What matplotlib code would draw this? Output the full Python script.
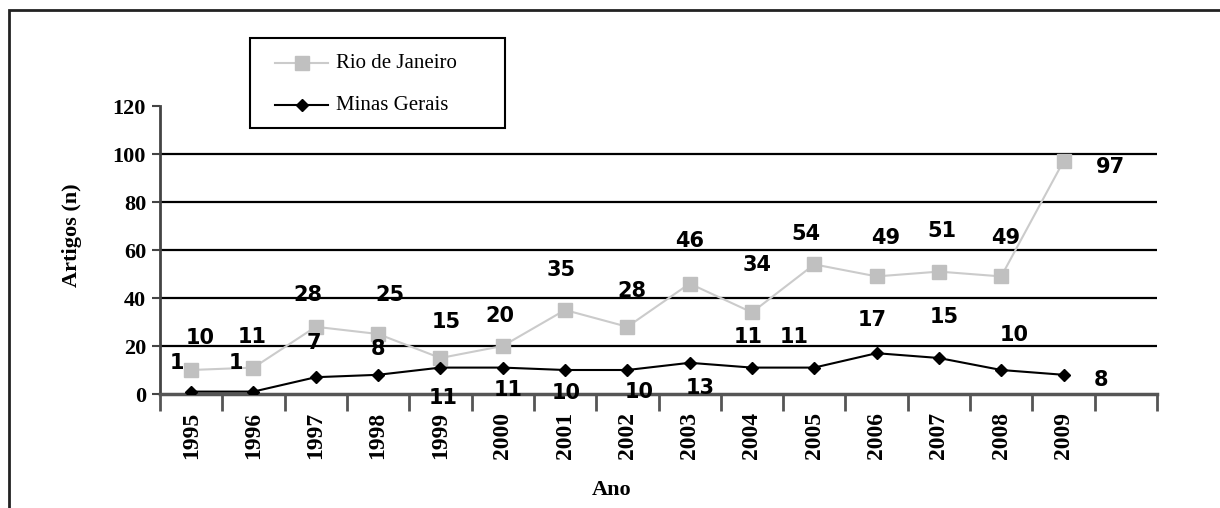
import matplotlib.pyplot as plt
from matplotlib.patches import Rectangle
from matplotlib.lines import Line2D

# data
anos = ['1995', '1996', '1997', '1998', '1999', '2000', '2001', '2002',
        '2003', '2004', '2005', '2006', '2007', '2008', '2009']
rio = [10, 11, 28, 25, 15, 20, 35, 28, 46, 34, 54, 49, 51, 49, 97]
minas = [1, 1, 7, 8, 11, 11, 10, 10, 13, 11, 11, 17, 15, 10, 8]
series_names = ['Rio de Janeiro', 'Minas Gerais']

# where each value label sits relative to its point (pixels)
rio_off = [(9, 32), (-1, 31), (-8, 32), (12, 39), (6, 36), (-3, 30), (-4, 40),
           (5, 36), (0, 43), (5, 47), (-8, 30), (9, 38), (3, 41), (4, 38), (47, -6)]
minas_off = [(-14, 29), (-18, 29), (-2, 34), (0, 26), (3, -30), (5, -22), (1, -23),
             (12, -22), (11, -25), (-4, 31), (-20, 31), (-4, 33), (5, 41), (13, 35), (37, -5)]

W, H = 1220, 508
fig = plt.figure(figsize=(W / 100, H / 100), dpi=100)
ax = fig.add_axes([160 / W, 1 - 394 / H, (1157 - 160) / W, (394 - 106) / H])

rio_style = dict(color='#cbcbcb', lw=1.5, marker='s', ms=10, mfc='#c0c0c0', mec='#c0c0c0')
minas_style = dict(color='black', lw=1.5, marker='D', ms=6)

x = list(range(len(anos)))
ax.plot(x, rio, zorder=3, **rio_style)
ax.plot(x, minas, zorder=4, **minas_style)

lab_font = dict(family='DejaVu Sans', fontweight='bold', fontsize=15)
for i, v in enumerate(rio):
    ax.annotate(str(v), (i, v), xytext=rio_off[i], textcoords='offset pixels',
                ha='center', va='center', zorder=5, **lab_font)
for i, v in enumerate(minas):
    ax.annotate(str(v), (i, v), xytext=minas_off[i], textcoords='offset pixels',
                ha='center', va='center', zorder=5, **lab_font)

ax.set_xlim(-0.5, len(anos) + 0.5)
ax.set_ylim(0, 120)

# gridlines (none at the top)
ax.set_yticks(range(0, 121, 20))
for g in range(20, 120, 20):
    ax.axhline(g, color='black', lw=1.6, zorder=1)

for s in ['top', 'right']:
    ax.spines[s].set_visible(False)
ax.spines['left'].set_color('#444444')
ax.spines['left'].set_linewidth(2)
ax.spines['bottom'].set_color('#555555')
ax.spines['bottom'].set_linewidth(2.5)

serif = dict(family='Liberation Serif', fontweight='bold')
ax.tick_params(axis='y', direction='out', length=6, width=1.5, color='#444444', pad=4)
for t in ax.get_yticklabels():
    t.set_fontsize(16)
    t.set_fontfamily('Liberation Serif')
    t.set_fontweight('bold')

# boundary ticks on x, labels at category centres
ax.set_xticks([i - 0.5 for i in range(len(anos) + 2)])
ax.set_xticklabels([])
ax.set_xticks(x, minor=True)
ax.set_xticklabels(anos, minor=True, rotation=90, fontsize=17, **serif)
ax.tick_params(axis='x', which='major', direction='out', length=12, width=2, color='#555555')
ax.tick_params(axis='x', which='minor', length=0, pad=13)

fig.text(72 / W, 1 - 235 / H, 'Artigos (n)', rotation=90, ha='center', va='center',
         fontsize=16, **serif)
fig.text(612 / W, 1 - 490 / H, 'Ano', ha='center', va='center', fontsize=16, **serif)

# legend box drawn by hand to match its wide frame
fig.patches.append(Rectangle((250 / W, 1 - 128 / H), 255 / W, 90 / H, transform=fig.transFigure,
                             fill=False, edgecolor='black', lw=1.5, zorder=10))
for name, style, ypx in zip(series_names, [rio_style, minas_style], [63, 105]):
    yf = 1 - ypx / H
    fig.lines.append(Line2D([275 / W, 328 / W], [yf, yf], transform=fig.transFigure,
                            color=style['color'], lw=style['lw']))
    fig.lines.append(Line2D([301.5 / W], [yf], transform=fig.transFigure, ls='none',
                            marker=style['marker'], ms=style['ms'],
                            mfc=style.get('mfc', style['color']), mec=style.get('mec', style['color'])))
    fig.text(336 / W, yf, name, ha='left', va='center', family='Liberation Serif', fontsize=15)

# outer border
fig.patches.append(Rectangle((9 / W, -0.1), 1.2, 1 - 10 / H + 0.1, transform=fig.transFigure,
                             fill=False, edgecolor='#222222', lw=2))

fig.savefig('out.png', dpi=100)
